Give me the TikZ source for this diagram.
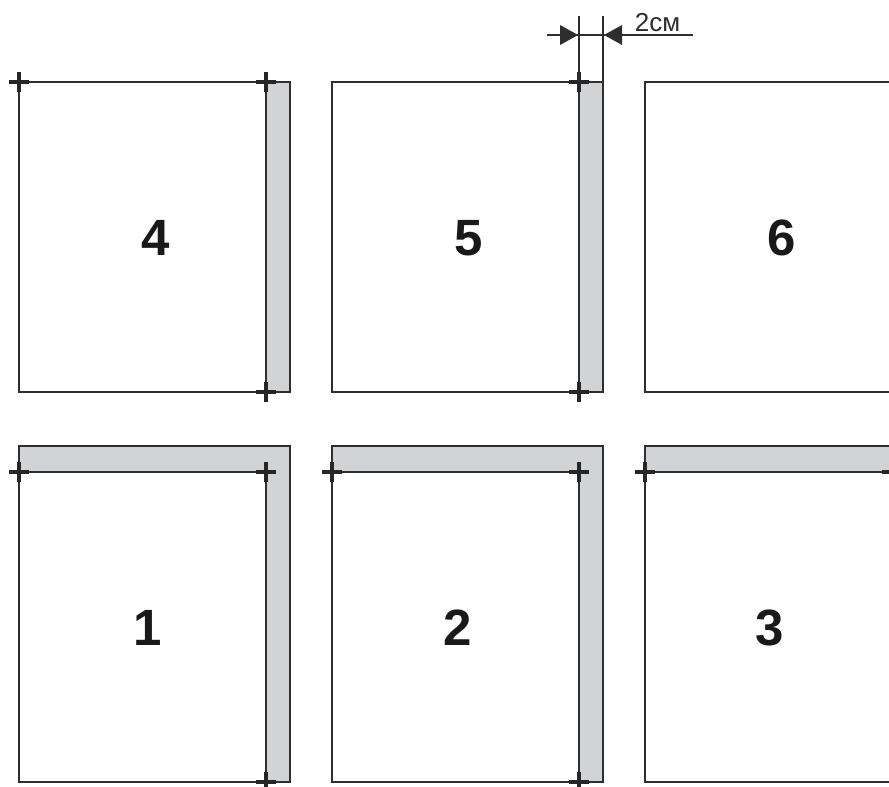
\documentclass[tikz,border=0pt]{standalone}
\usepackage{fontspec}
\setmainfont{Liberation Sans}
\definecolor{flap}{HTML}{D1D3D4}
\definecolor{ink}{HTML}{2E2E2E}
\tikzset{
  panel/.style={draw=ink,line width=2.4pt,fill=white},
  flapzone/.style={draw=ink,line width=2.4pt,fill=flap},
  dimline/.style={draw=ink,line width=1.8pt},
  crossline/.style={draw=black!85,line width=4pt},
  tip/.style={fill=ink,draw=none},
  pagenum/.style={inner sep=0pt,font=\fontsize{51}{51}\selectfont\bfseries,text=black!90},
  dimtext/.style={inner sep=0pt,font=\fontsize{26}{26}\selectfont,text=ink}
}
\newcommand{\crossmark}[2]{%
  \draw[crossline] (#1-10,#2) -- (#1+10,#2) (#1,#2-10) -- (#1,#2+10);}
\begin{document}
\begin{tikzpicture}[x=1pt,y=-1pt]
\useasboundingbox (0,0) rectangle (889,787);
\begin{scope}
\clip (0,0) rectangle (889,787);
% top row
\draw[flapzone] (266,82) rectangle (290,392);
\draw[panel] (19,82) rectangle (266,392);
\draw[flapzone] (579,82) rectangle (603,392);
\draw[panel] (332,82) rectangle (579,392);
\draw[panel] (645,82) rectangle (900,392);
% bottom row
\draw[flapzone] (19,446) -- (290,446) -- (290,782) -- (266,782) -- (266,472) -- (19,472) -- cycle;
\draw[panel] (19,472) rectangle (266,782);
\draw[flapzone] (332,446) -- (603,446) -- (603,782) -- (579,782) -- (579,472) -- (332,472) -- cycle;
\draw[panel] (332,472) rectangle (579,782);
\draw[flapzone] (645,446) rectangle (900,472);
\draw[panel] (645,472) rectangle (900,782);
% crosses
\crossmark{19}{82}\crossmark{266}{82}\crossmark{266}{392}
\crossmark{579}{82}\crossmark{579}{392}
\crossmark{19}{472}\crossmark{266}{472}\crossmark{266}{782}
\crossmark{332}{472}\crossmark{579}{472}\crossmark{579}{782}
\crossmark{645}{472}\crossmark{892}{472}
\end{scope}
% dimension
\coordinate (dimLtop) at (579,16);
\coordinate (dimLbot) at (579,82);
\coordinate (dimRtop) at (603,16);
\coordinate (dimRbot) at (603,82);
\coordinate (dimA) at (547,35);
\coordinate (dimB) at (693,35);
\draw[dimline] (dimLtop) -- (dimLbot);
\draw[dimline] (dimRtop) -- (dimRbot);
\draw[dimline] (dimA) -- (dimB);
\fill[tip] (578,35) -- (560,25) -- (560,45) -- cycle;
\fill[tip] (604,35) -- (622,25) -- (622,45) -- cycle;
\node[dimtext] (dimlabel) at (657.5,22.5) {2см};
% numbers
\node[pagenum] (n4) at (156,238) {4};
\node[pagenum] (n5) at (469,238) {5};
\node[pagenum] (n6) at (782,238) {6};
\node[pagenum] (n1) at (148,628) {1};
\node[pagenum] (n2) at (458,628) {2};
\node[pagenum] (n3) at (770,628) {3};
\end{tikzpicture}
\end{document}
